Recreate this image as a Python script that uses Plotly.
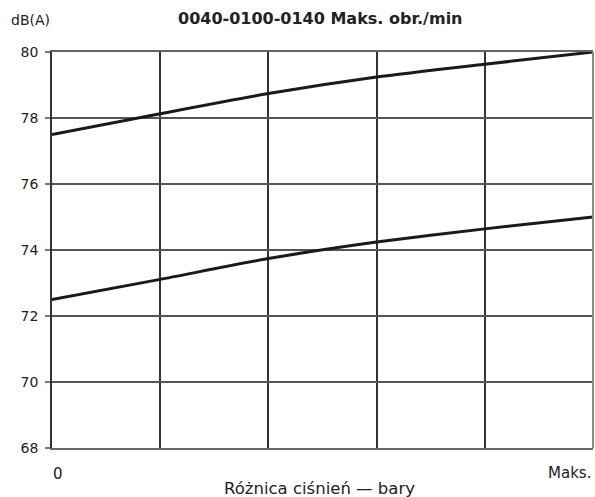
import plotly.graph_objects as go

# Data
x_pos = [0, 1, 2, 3, 4, 5]
upper_db = [77.5, 78.13, 78.74, 79.24, 79.63, 80.0]
lower_db = [72.5, 73.11, 73.74, 74.24, 74.64, 75.0]
y_ticks = [68, 70, 72, 74, 76, 78, 80]
x_grid = [1, 2, 3, 4]
x_end_labels = ["0", "Maks."]
title_text = "<b>0040-0100-0140 Maks. obr./min</b>"
y_unit = "dB(A)"
x_title = "Różnica ciśnień — bary"

W, H = 595, 497
L, R, T, B = 52, 593.5, 51.7, 447.7  # plot area in page pixels
ML, MR, MT, MB = L, W - R, T, H - B
PW = R - L
PH = B - T

def px(xp):
    return (xp - L) / PW

def py(yp):
    return (B - yp) / PH

FONT = "DejaVu Sans, Liberation Sans, Arial, sans-serif"

fig = go.Figure()
for ys in (upper_db, lower_db):
    fig.add_trace(go.Scatter(
        x=x_pos, y=ys, mode="lines",
        line=dict(color="#1a1a1a", width=3, shape="spline", smoothing=0.6),
        showlegend=False, hoverinfo="skip"))

fig.update_layout(
    width=W, height=H,
    margin=dict(l=ML, r=MR, t=MT, b=MB, pad=0),
    paper_bgcolor="white", plot_bgcolor="white",
    font=dict(family=FONT, color="#222"),
    xaxis=dict(range=[0, 5], tickvals=x_grid, showticklabels=False,
               showgrid=True, gridcolor="#333", gridwidth=1.5,
               showline=True, linecolor="#666", linewidth=2, mirror=True,
               zeroline=False, ticks=""),
    yaxis=dict(range=[68, 80], tickvals=y_ticks, ticks="outside", ticklen=5,
               tickcolor="#777", tickwidth=1.5,
               tickfont=dict(size=14, color="#222"), ticklabelstandoff=4,
               showgrid=True, gridcolor="#555", gridwidth=1.5,
               showline=True, linecolor="#333", linewidth=1.5,
               zeroline=False),
    shapes=[dict(type="line", xref="paper", yref="paper", x0=1, x1=1, y0=0, y1=1,
                 line=dict(color="#888", width=2))],
    annotations=[
        dict(text=title_text, x=px(320.8), y=py(18.5), xref="paper", yref="paper",
             xanchor="center", yanchor="middle", showarrow=False,
             font=dict(size=16, color="#222")),
        dict(text=y_unit, x=px(9.3), y=py(19.5), xref="paper", yref="paper",
             xanchor="left", yanchor="middle", showarrow=False,
             font=dict(size=14, color="#222")),
        dict(text=x_end_labels[0], x=0, y=py(474), xref="x", yref="paper",
             xanchor="left", yanchor="middle", showarrow=False, xshift=-1,
             font=dict(size=15, color="#222")),
        dict(text=x_end_labels[1], x=5, y=py(472.3), xref="x", yref="paper",
             xanchor="right", yanchor="middle", showarrow=False,
             font=dict(size=15, color="#222")),
        dict(text=x_title, x=px(320), y=py(488), xref="paper", yref="paper",
             xanchor="center", yanchor="middle", showarrow=False,
             font=dict(size=16.5, color="#222")),
    ],
)

fig.write_html(
    "out.html",
    config={"displayModeBar": False},
    post_script="document.documentElement.style.overflow='hidden';"
                "document.body.style.margin='0';document.body.style.overflow='hidden';",
)
